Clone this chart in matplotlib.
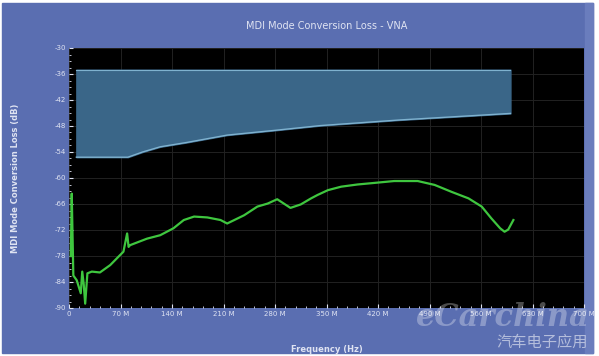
import numpy as np
import matplotlib.pyplot as plt
from matplotlib.patches import Rectangle
from matplotlib.ticker import MultipleLocator, FuncFormatter

# Limit mask (MHz, dB)
mask_freq = [10, 80, 90, 100, 112, 124, 160, 215, 280, 342, 450, 600]
mask_low = [-55.2, -55.2, -54.6, -54.0, -53.4, -52.8, -51.8, -50.1, -49.0, -47.9, -46.6, -45.1]
mask_high = -35.0

# Measured mode conversion loss (MHz, dB)
freq = [2.5, 3.7, 5.9, 10.5, 16, 18, 20, 22, 25, 31, 42, 56, 74, 79, 81, 83,
        106, 124, 142, 156, 170, 188, 206, 215, 238, 256, 270, 283, 301,
        315, 329, 338, 352, 370, 392, 411, 442, 474, 497, 520, 543, 561,
        574, 586, 592, 597, 604]
loss = [-78, -63.6, -82.5, -83.6, -86.6, -81.6, -84.5, -89.0, -82.0, -81.6,
        -81.8, -80.1, -77.0, -72.8, -75.9, -75.5, -74.0, -73.2, -71.6, -69.7,
        -68.9, -69.1, -69.7, -70.5, -68.6, -66.6, -65.9, -64.9, -66.9, -66.1,
        -64.7, -63.9, -62.8, -62.0, -61.5, -61.2, -60.7, -60.7, -61.6, -63.2,
        -64.7, -66.6, -69.3, -71.6, -72.4, -71.9, -69.7]

txt = '#dfe3f2'
fig = plt.figure(figsize=(5.99, 3.56), dpi=100, facecolor='white')
fig.patches.append(Rectangle((2 / 599, 3 / 356), 591 / 599, 350 / 356,
                             transform=fig.transFigure, color='#5a6eb1', zorder=-2))
fig.patches.append(Rectangle((585 / 599, 3 / 356), 8 / 599, 350 / 356,
                             transform=fig.transFigure, color='#6a7dbd', zorder=-1))

ax = fig.add_axes([69 / 599, 1 - 308 / 356, 515 / 599, 260 / 356])
ax.set_facecolor('black')

ax.fill_between(mask_freq, mask_low, mask_high, color='#3a6688', zorder=2)
ax.plot(mask_freq, mask_low, color='#7fb2cf', lw=1.0, zorder=3)
ax.plot([mask_freq[0], mask_freq[-1]], [mask_high, mask_high], color='#7fb2cf', lw=0.8, zorder=3)
ax.plot(freq, loss, color='#3fc63f', lw=1.6, zorder=4)

ax.set_xlim(0, 700)
ax.set_ylim(-90, -30)
ax.xaxis.set_major_locator(MultipleLocator(70))
ax.xaxis.set_minor_locator(MultipleLocator(14))
ax.yaxis.set_major_locator(MultipleLocator(6))
ax.yaxis.set_minor_locator(MultipleLocator(1.5))
ax.xaxis.set_major_formatter(FuncFormatter(lambda v, p: '0' if v == 0 else f'{int(v)} M'))
ax.yaxis.set_major_formatter(FuncFormatter(lambda v, p: f'{int(v)}'))
ax.grid(True, which='major', color='#222222', lw=0.7)
ax.tick_params(which='both', colors=txt, labelsize=5, direction='in', pad=2)
ax.tick_params(which='major', length=3)
ax.tick_params(which='minor', length=1.5)
for s in ax.spines.values():
    s.set_visible(False)

ax.set_title('MDI Mode Conversion Loss - VNA', color=txt, fontsize=7, pad=14)
ax.set_xlabel('Frequency (Hz)', color=txt, fontsize=6, fontweight='bold', labelpad=20)
ax.set_ylabel('MDI Mode Conversion Loss (dB)', color=txt, fontsize=6, fontweight='bold', labelpad=25)

# watermark
fig.text(590 / 599, 1 - 318 / 356, 'eCarchina', color='white', alpha=0.3, fontsize=22,
         fontweight='bold', fontstyle='italic', family='DejaVu Serif', ha='right', va='center')
fig.text(588 / 599, 1 - 342 / 356, '汽车电子应用', color='white', alpha=0.55, fontsize=11,
         family=['Noto Sans CJK SC', 'DejaVu Sans'], ha='right', va='center')

fig.savefig('out.png', dpi=100, facecolor=fig.get_facecolor())
